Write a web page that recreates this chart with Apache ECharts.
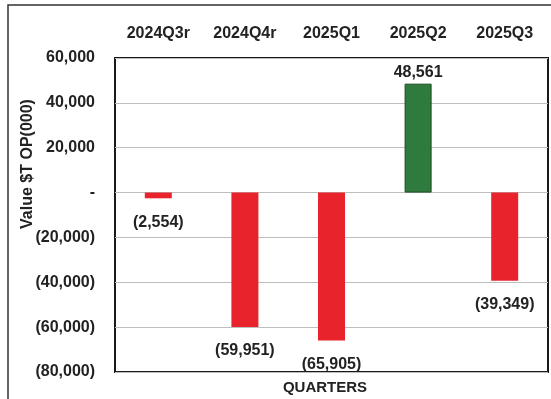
<!DOCTYPE html>
<html>
<head>
<meta charset="utf-8">
<script src="https://cdn.jsdelivr.net/npm/echarts@6/dist/echarts.min.js"></script>
<style>
  html, body { margin: 0; padding: 0; background: #fff; }
  #chart { width: 551px; height: 399px; }
</style>
</head>
<body>
<div id="chart"></div>
<script>
// quarters and values ($T OP, thousands)
const quarters = ["2024Q3r", "2024Q4r", "2025Q1", "2025Q2", "2025Q3"];
const values = [-2554, -59951, -65905, 48561, -39349];

const RED = "#e8232b";
const GREEN = "#2f7a3d";
const FONT = "Liberation Sans, Arial, Helvetica, sans-serif";

function fmt(v) {
  if (v === 0) return "-";
  const s = Math.abs(v).toLocaleString("en-US");
  return v < 0 ? "(" + s + ")" : s;
}

const chart = echarts.init(document.getElementById("chart"));
chart.setOption({
  animation: false,
  textStyle: { fontFamily: FONT },
  graphic: [
    {
      type: "rect",
      shape: { x: 8, y: 5, width: 560, height: 410 },
      style: { fill: "none", stroke: "#333", lineWidth: 1.5 },
      z: -1
    },
    {
      type: "text",
      x: 28,
      y: 164,
      rotation: Math.PI / 2,
      style: {
        text: "Value $T OP(000)",
        fill: "#222",
        font: "bold 16px " + FONT,
        align: "center",
        verticalAlign: "middle"
      }
    },
    {
      type: "text",
      x: 325,
      y: 388,
      style: {
        text: "QUARTERS",
        fill: "#222",
        font: "bold 15px " + FONT,
        align: "center",
        verticalAlign: "middle"
      }
    }
  ],
  grid: {
    left: 115,
    top: 58,
    right: 3,
    bottom: 27,
    show: true,
    borderColor: "#1a1a1a",
    borderWidth: 2,
    backgroundColor: "#fff"
  },
  xAxis: {
    type: "category",
    position: "top",
    data: quarters,
    axisLine: { show: false },
    axisTick: { show: false },
    axisLabel: {
      color: "#222",
      fontSize: 16,
      fontWeight: "bold",
      margin: 16
    }
  },
  yAxis: {
    type: "value",
    min: -80000,
    max: 60000,
    interval: 20000,
    axisLine: { show: false },
    axisTick: { show: false },
    splitLine: { lineStyle: { color: "#bdbdbd", width: 1 } },
    axisLabel: {
      color: "#222",
      fontSize: 16,
      fontWeight: "bold",
      margin: 20,
      formatter: fmt
    }
  },
  series: [
    {
      type: "bar",
      barWidth: 27,
      data: values.map(v => ({
        value: v,
        itemStyle: v >= 0
          ? { color: GREEN, borderColor: "#1c4a25", borderWidth: 1 }
          : { color: RED },
        label: { position: v >= 0 ? "top" : "bottom", distance: v >= 0 ? 3 : 16 }
      })),
      label: {
        show: true,
        color: "#222",
        fontSize: 16,
        fontWeight: "bold",
        formatter: p => fmt(p.value)
      }
    }
  ]
});
</script>
</body>
</html>
